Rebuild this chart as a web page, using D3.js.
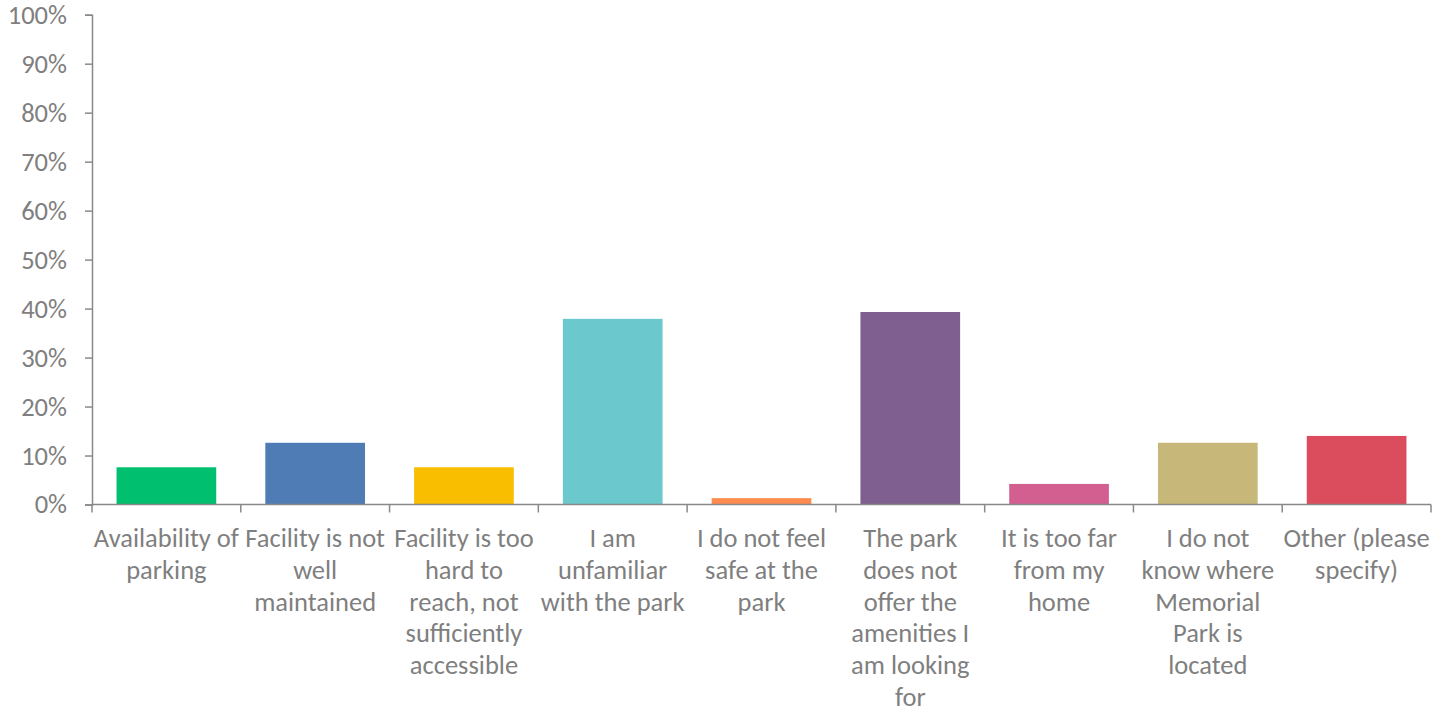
<!DOCTYPE html>
<html><head><meta charset="utf-8">
<script src="https://cdn.jsdelivr.net/npm/d3@7"></script>
<style>
html,body{margin:0;padding:0;background:#fff;}
svg text{font-family:Carlito, Calibri, "Open Sans", sans-serif;fill:#7f7f7f;}
</style></head><body>
<svg id="c" width="1441" height="713"></svg>
<script>
const categories = [
  ["Availability of","parking"],
  ["Facility is not","well","maintained"],
  ["Facility is too","hard to","reach, not","sufficiently","accessible"],
  ["I am","unfamiliar","with the park"],
  ["I do not feel","safe at the","park"],
  ["The park","does not","offer the","amenities I","am looking","for"],
  ["It is too far","from my","home"],
  ["I do not","know where","Memorial","Park is","located"],
  ["Other (please","specify)"]
];
const values = [7.6, 12.6, 7.6, 37.9, 1.3, 39.3, 4.2, 12.6, 14.0];
const colors = ["#00BF6F","#507CB6","#F9BE00","#6BC8CD","#FF8B4F","#7F5F90","#D25F90","#C7B879","#DB4D5C"];
const yTicks = [0,10,20,30,40,50,60,70,80,90,100];

(function(){
const svg = d3.select("#c");
const mLeft = 92, mRight = 1431, mTop = 14.7, mBottom = 504.5;
const fs = 26.5;
const ids = categories.map((c,i)=>i);
const x = d3.scaleBand().domain(ids).range([mLeft,mRight]).paddingInner(0.33).paddingOuter(0.165);
const xb = d3.scaleBand().domain(ids).range([mLeft,mRight]).padding(0);
const y = d3.scaleLinear().domain([0,100]).range([mBottom,mTop]);
const axisColor = "#898989";

svg.append("g").selectAll("rect").data(values).join("rect")
  .attr("x",(d,i)=>x(i)).attr("width",x.bandwidth())
  .attr("y",d=>y(d)).attr("height",d=>y(0)-y(d))
  .attr("fill",(d,i)=>colors[i]);

const ya = svg.append("g").attr("transform",`translate(${mLeft},0)`)
  .call(d3.axisLeft(y).tickValues(yTicks).tickFormat(d=>d+"%").tickSize(7).tickPadding(18));
ya.select(".domain").attr("stroke",axisColor).attr("stroke-width",1.5);
ya.selectAll(".tick line").attr("stroke",axisColor).attr("stroke-width",1.5);
ya.selectAll(".tick text").attr("font-size",fs).attr("fill","#7f7f7f").attr("font-family",null);

const xa = svg.append("g");
xa.append("line").attr("x1",mLeft).attr("x2",mRight).attr("y1",y(0)).attr("y2",y(0))
  .attr("stroke",axisColor).attr("stroke-width",1.5);
const bounds = ids.map(i=>xb(i)).concat([mRight]);
xa.selectAll("line.t").data(bounds).join("line").attr("class","t")
  .attr("x1",d=>d).attr("x2",d=>d).attr("y1",y(0)).attr("y2",y(0)+8)
  .attr("stroke",axisColor).attr("stroke-width",1.5);

const lg = svg.append("g");
categories.forEach((lines,i)=>{
  const cx = xb(i)+xb.bandwidth()/2;
  const t = lg.append("text").attr("text-anchor","middle").attr("font-size",fs)
    .attr("x",cx).attr("y",547);
  lines.forEach((l,j)=>{
    t.append("tspan").attr("x",cx).attr("dy",j===0?0:31.8).text(l);
  });
});
})();
</script></body></html>
